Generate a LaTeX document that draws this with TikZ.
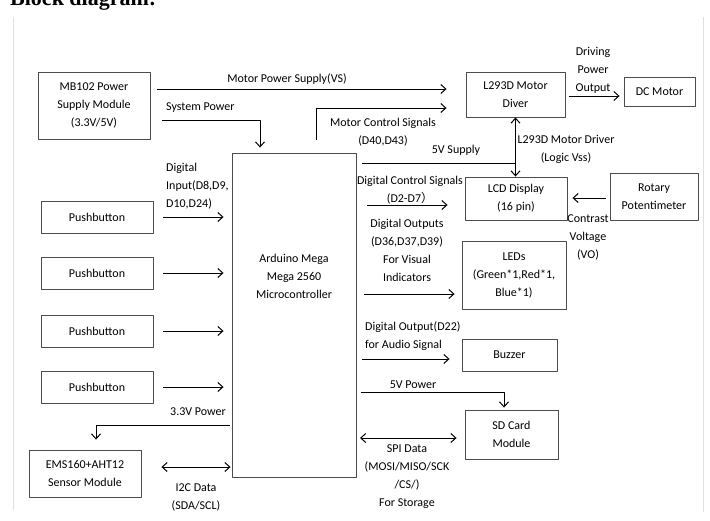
\documentclass[tikz,border=0pt]{standalone}
\usepackage{fontspec}
\setmainfont{Carlito}
\newfontfamily\titlefont{Liberation Serif}
\newfontfamily\cjk{Noto Sans CJK SC}
\usetikzlibrary{arrows.meta}
\begin{document}
\begin{tikzpicture}[x=1pt,y=-1pt,>={Straight Barb[length=5pt,width=9pt]},line join=round,
	font=\fontsize{12}{18}\selectfont,
	blk/.style={draw=black!70,line width=0.9pt,align=center,inner sep=0pt},
	wire/.style={line width=1pt},
	lbl/.style={align=center,inner sep=0pt}]
	\useasboundingbox (0,0) rectangle (710,520);
	% page frame and heading
	\draw[black!12] (13,17) -- (13,510) (703,17) -- (703,512);
	\node[anchor=base west,inner sep=0pt,font=\titlefont\bfseries\fontsize{22}{24}\selectfont] (title) at (10,5) {Block diagram:};
	% blocks
	\node[blk,minimum width=112pt,minimum height=67pt] (mb) at (94,105.5) {MB102 Power\\Supply Module\\(3.3V/5V)};
	\foreach \i/\y in {1/217,2/273,3/331,4/387}
		\node[blk,minimum width=112pt,minimum height=32pt] (pb\i) at (97,\y) {Pushbutton};
	\node[blk,minimum width=112pt,minimum height=47pt] (ems) at (85,473.5) {EMS160+AHT12\\Sensor Module};
	\node[blk,minimum width=124pt,minimum height=324pt] (ard) at (294,315) {};
	\node[lbl] (ardtxt) at ([yshift=39pt]ard.center) {Arduino Mega\\Mega 2560\\Microcontroller};
	\node[blk,minimum width=99pt,minimum height=45pt] (l293) at (515.5,94.5) {L293D Motor\\Diver};
	\node[blk,minimum width=71pt,minimum height=29pt] (dc) at (659.5,91.5) {DC Motor};
	\node[blk,minimum width=102pt,minimum height=43pt] (lcd) at (516,198.5) {LCD Display\\(16 pin)};
	\node[blk,minimum width=88pt,minimum height=47pt] (rot) at (654,196.5) {Rotary\\Potentimeter};
	\node[blk,minimum width=104pt,minimum height=68pt] (leds) at (514,275) {LEDs\\(Green*1,Red*1,\\Blue*1)};
	\node[blk,minimum width=95pt,minimum height=32pt] (buzz) at (509.5,355) {Buzzer};
	\node[blk,minimum width=93pt,minimum height=49pt] (sd) at (511.5,434.5) {SD Card\\Module};
	% free ends
	\coordinate (vs) at (157,89);
	\coordinate (sys) at (162,120);
	\coordinate (mcs) at (316,140);
	\coordinate (v5s) at (362,163);
	\coordinate (dcs) at (367,205);
	\coordinate (dvi) at (364,294);
	\coordinate (aud) at (362,359);
	\coordinate (v5p) at (361,392);
	\coordinate (spi) at (360,438);
	% connectors
	\draw[wire,->,shorten >=19pt] (vs) -- (vs -| l293.west);
	\draw[wire,->,shorten >=5pt] (sys) -| ([xshift=-34pt]ard.north);
	\draw[wire,->,shorten >=19pt] (mcs) |- ([yshift=-13.5pt]l293.west);
	\draw[wire] (v5s) -- (v5s -| l293.south);
	\draw[wire,<->] (l293.south) -- (l293.south |- lcd.north);
	\draw[wire,->,shorten >=17pt] (dcs) -- (dcs -| lcd.west);
	\draw[wire,->,shorten >=7pt] (dvi) -- (dvi -| leds.west);
	\draw[wire,->,shorten >=12pt] (aud) -- (aud -| buzz.west);
	\draw[wire,->,shorten >=2pt] (v5p) -| ([xshift=-7.5pt]sd.north);
	\draw[wire,<->,shorten >=8pt] (spi) -- (spi -| sd.west);
	\foreach \i in {1,...,4}
		\draw[wire,->,shorten <=10pt,shorten >=8pt] (pb\i.east) -- (pb\i.east -| ard.west);
	\draw[wire,->,shorten <=2pt,shorten >=10pt] ([yshift=-110pt]ard.west) -| ([xshift=11pt]ems.north);
	\draw[wire,<->,shorten <=20pt,shorten >=1pt] ([yshift=6.5pt]ems.east) -- ([yshift=6.5pt]ems.east -| ard.west);
	\draw[wire,->,shorten <=4pt,shorten >=5pt] ([yshift=-1.5pt]rot.west) -- ([yshift=-1.5pt]rot.west -| lcd.east);
	\draw[wire,->,shorten <=4pt,shorten >=4pt] ([yshift=-1.5pt]l293.east) -- ([yshift=-1.5pt]l293.east -| dc.west);
	% labels
	\node[lbl] (lvs) at (287,79) {Motor Power Supply(VS)};
	\node[lbl,anchor=west] (lsys) at (166,108) {System Power};
	\node[lbl] (lmcs) at (383,132) {Motor Control Signals\\(D40,D43)};
	\node[lbl] (lv5s) at (456,150) {5V Supply};
	\node[lbl] (llog) at (566,149) {L293D Motor Driver\\(Logic Vss)};
	\node[lbl] (ldrv) at (593,70) {Driving\\Power\\Output};
	\node[lbl] (ldcs) at (410,190) {Digital Control Signals\\(D2-D7{\cjk ）}};
	\node[lbl] (ldvi) at (407,250) {Digital Outputs\\(D36,D37,D39)\\For Visual\\Indicators};
	\node[lbl] (lvo) at (588,237) {Contrast\\Voltage\\(VO)};
	\node[lbl,align=left,anchor=west] (laud) at (365,336) {Digital Output(D22)\\for Audio Signal};
	\node[lbl] (lv5p) at (413,385) {5V Power};
	\node[lbl] (lspi) at (407,477) {SPI Data\\(MOSI/MISO/SCK\\/CS/)\\For Storage};
	\node[lbl,align=left,anchor=west] (ldin) at (166,186) {Digital\\Input(D8,D9,\\D10,D24)};
	\node[lbl] (l33) at (198,412) {3.3V Power};
	\node[lbl] (li2c) at (196,497) {I2C Data\\(SDA/SCL)};
\end{tikzpicture}
\end{document}
